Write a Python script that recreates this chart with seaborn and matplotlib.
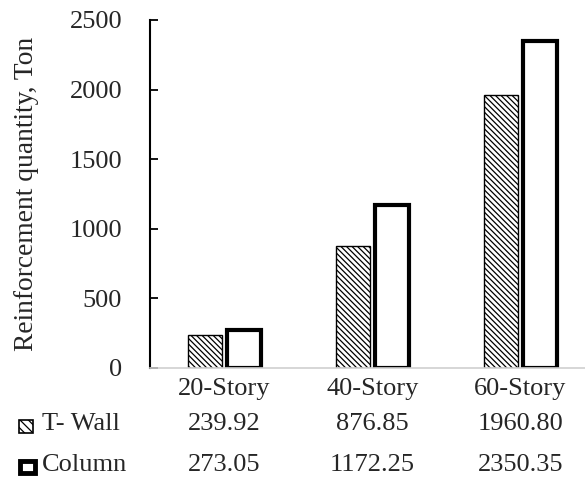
import matplotlib
matplotlib.use("Agg")
import matplotlib.pyplot as plt
from matplotlib.patches import Rectangle
import seaborn as sns
import pandas as pd

categories = ["20-Story", "40-Story", "60-Story"]
series_names = ["T- Wall", "Column"]
t_wall = [239.92, 876.85, 1960.80]
column = [273.05, 1172.25, 2350.35]
y_ticks = [0, 500, 1000, 1500, 2000, 2500]

df = pd.DataFrame({
    "Story": categories * 2,
    "Type": [series_names[0]] * 3 + [series_names[1]] * 3,
    "Value": t_wall + column,
})

sns.set_theme(style="white")
plt.rcParams["font.family"] = ["Liberation Serif", "DejaVu Serif"]
plt.rcParams["hatch.linewidth"] = 0.9

FS = 19
HATCH = "\\" * 6
W, H = 585, 479
fig = plt.figure(figsize=(W / 100, H / 100), dpi=100)
ax = fig.add_axes([150 / W, (H - 368) / H, (585 - 150) / W, (368 - 20) / H])

sns.barplot(data=df, x="Story", y="Value", hue="Type", order=categories,
            hue_order=series_names, palette=["white", "white"],
            width=0.53, gap=0.13, legend=False, ax=ax)

# hatched thin-edged bars for walls, heavy outlined bars for columns
for bar in ax.containers[0]:
    bar.set_hatch(HATCH)
    bar.set_edgecolor("black")
    bar.set_linewidth(1.0)
for bar in ax.containers[1]:
    bar.set_edgecolor("black")
    bar.set_linewidth(3.0)

# category centres sit 148 px apart, first one at 224.5 px
unit = 148.0
x0 = (150 - 224.5) / unit
x1 = (585 - 224.5) / unit
ax.set_xlim(x0, x1)
ax.set_ylim(0, 2500)
ax.set_yticks(y_ticks)
ax.set_yticklabels([str(v) for v in y_ticks], fontsize=FS)
ax.set_xticks([])
ax.set_xlabel("")
ax.set_ylabel("Reinforcement quantity, Ton", fontsize=FS + 0.8, labelpad=22)
ax.tick_params(axis="y", left=True, direction="in", length=6, width=1.3,
               color="black", pad=20)
ax.tick_params(axis="x", length=0)
for side in ["top", "right"]:
    ax.spines[side].set_visible(False)
ax.spines["left"].set_color("black")
ax.spines["left"].set_linewidth(1.5)
ax.spines["bottom"].set_color("#d0d0d0")
ax.spines["bottom"].set_linewidth(1.2)

# data table under the plot, columns aligned with the category centres
def px(xdata):
    return ax.transData.transform((xdata, 0))[0] / W

row_y = [389, 424, 465]
for i, cat in enumerate(categories):
    fig.text(px(i), 1 - row_y[0] / H, cat, ha="center", va="center", fontsize=FS)
for i, v in enumerate(t_wall):
    fig.text(px(i), 1 - row_y[1] / H, f"{v:.2f}", ha="center", va="center", fontsize=FS)
for i, v in enumerate(column):
    fig.text(px(i), 1 - row_y[2] / H, f"{v:.2f}", ha="center", va="center", fontsize=FS)

fig.text(42 / W, 1 - row_y[1] / H, series_names[0], ha="left", va="center", fontsize=FS)
fig.text(42 / W, 1 - row_y[2] / H, series_names[1], ha="left", va="center", fontsize=FS)

fig.patches.append(Rectangle((19 / W, 1 - 433 / H), 14 / W, 13 / H,
                             transform=fig.transFigure, facecolor="white",
                             edgecolor="black", linewidth=1.2, hatch="\\\\\\\\"))
fig.patches.append(Rectangle((20 / W, 1 - 473 / H), 15 / W, 12 / H,
                             transform=fig.transFigure, facecolor="white",
                             edgecolor="black", linewidth=3.5))

fig.savefig("out.png", dpi=100, facecolor="white")
